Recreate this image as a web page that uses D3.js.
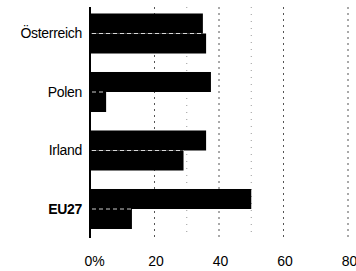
<!DOCTYPE html>
<html><head><meta charset="utf-8">
<script src="https://cdn.jsdelivr.net/npm/d3@7"></script>
<style>body{margin:0;background:#fff}svg{display:block}</style>
</head><body>
<script>
const categories = ["Österreich", "Polen", "Irland", "EU27"];
const seriesA = [35, 37.5, 36, 50];
const seriesB = [36, 5, 29, 13];
const tickValues = [0, 20, 40, 60, 80];
const tickLabels = ["0%", "20", "40", "60", "80"];
const gridDark = [20, 40, 60, 80];
const gridLight = [30, 50];

const W = 356, H = 271;
const svg = d3.select("body").append("svg").attr("width", W).attr("height", H);
const x = d3.scaleLinear().domain([0, 80]).range([90, 348]);
const y = d3.scaleBand().domain(categories).range([4.25, 238.25]).paddingInner(0.316).paddingOuter(0.158);
const sub = d3.scaleBand().domain([0, 1]).range([0, y.bandwidth()]);

// gridlines
svg.append("g").selectAll("line").data(gridDark).join("line")
  .attr("x1", d => x(d)).attr("x2", d => x(d)).attr("y1", 7).attr("y2", 238)
  .attr("stroke", "#555").attr("stroke-width", 1).attr("stroke-dasharray", "2,4");
svg.append("g").selectAll("line").data(gridLight).join("line")
  .attr("x1", d => x(d)).attr("x2", d => x(d)).attr("y1", 7).attr("y2", 238)
  .attr("stroke", "#999").attr("stroke-width", 1).attr("stroke-dasharray", "1,6");

// bars
const g = svg.append("g");
categories.forEach((c, i) => {
  [seriesA[i], seriesB[i]].forEach((v, j) => {
    g.append("rect").attr("x", x(0)).attr("y", y(c) + sub(j))
      .attr("width", x(v) - x(0)).attr("height", sub.bandwidth())
      .attr("fill", "#000");
  });
  // thin separation between the two bars of a group
  g.append("line").attr("x1", x(0) + 2).attr("x2", x(Math.min(seriesA[i], seriesB[i])))
    .attr("y1", y(c) + sub(1)).attr("y2", y(c) + sub(1))
    .attr("stroke", "#fff").attr("stroke-width", 0.8).attr("stroke-dasharray", "4,3");
});

// axis line
svg.append("line").attr("x1", x(0)).attr("x2", x(0)).attr("y1", 7).attr("y2", 238)
  .attr("stroke", "#000").attr("stroke-width", 2);

// category labels
svg.append("g").selectAll("text").data(categories).join("text")
  .attr("x", 82).attr("y", d => y(d) + y.bandwidth() / 2)
  .attr("dy", "0.35em").attr("text-anchor", "end")
  .attr("font-family", "Liberation Sans, Arial, sans-serif").attr("font-size", 14)
  .attr("font-weight", d => d === "EU27" ? "bold" : "normal")
  .attr("letter-spacing", "-0.3")
  .text(d => d);

// tick labels
const xAxis = d3.axisBottom(x).tickValues(tickValues).tickFormat((d, i) => tickLabels[i]).tickSize(0).tickPadding(0);
const ax = svg.append("g").attr("transform", "translate(0,256)").call(xAxis);
ax.select(".domain").remove();
ax.selectAll("text").attr("font-family", "Liberation Sans, Arial, sans-serif").attr("font-size", 14).attr("fill", "#000")
  .attr("dx", (d) => d === 0 ? 4 : 1);
</script>
</body></html>
